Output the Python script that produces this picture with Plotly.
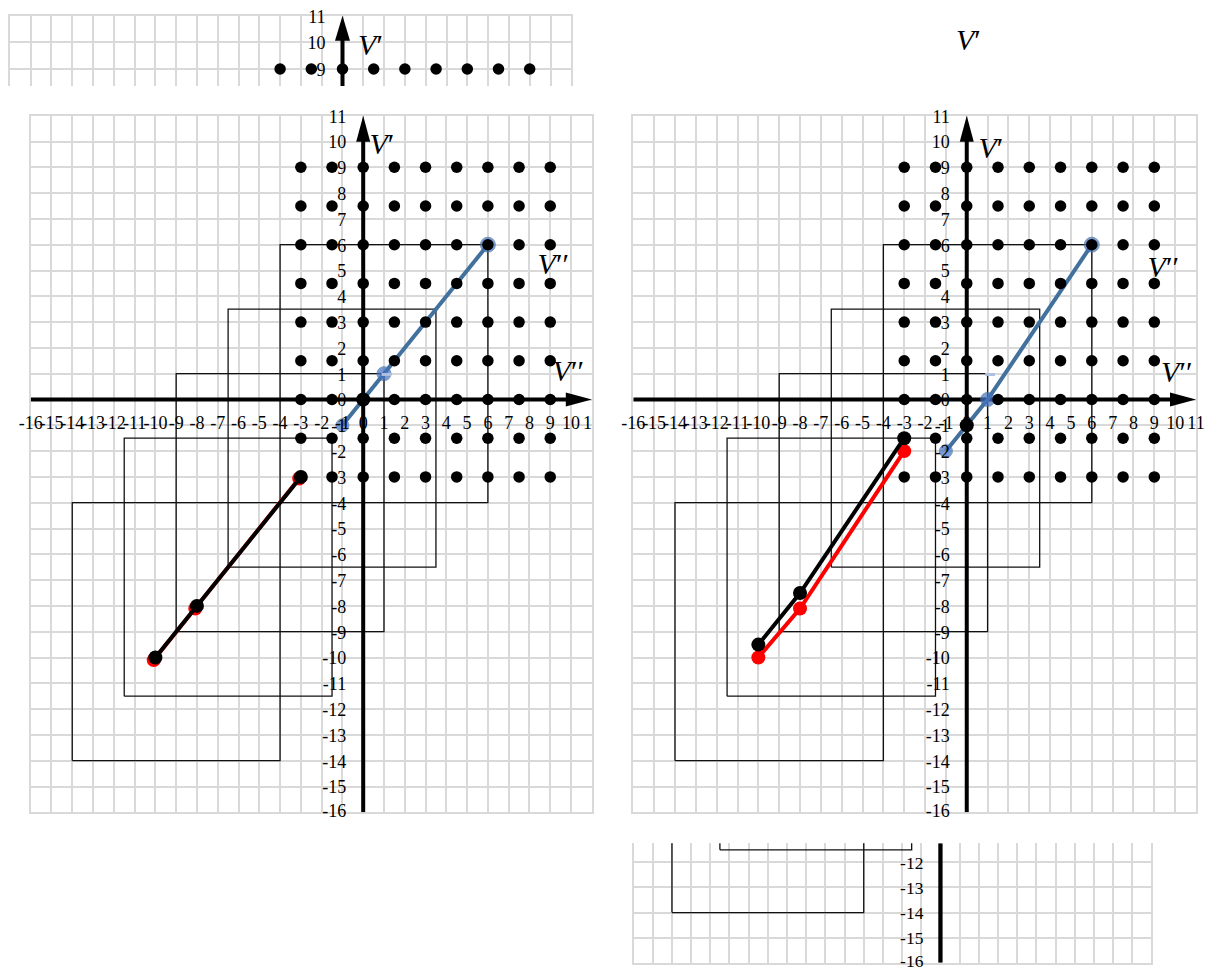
import plotly.graph_objects as go

W, H = 1214, 969

# ---------------- data ----------------
TICKS = list(range(-16, 12))
LATTICE = [-3, -1.5, 0, 1.5, 3, 4.5, 6, 7.5, 9]

# nested squares: lower-left corner and side length
SQUARE_X0 = [-4, -6.5, -9, -11.5, -14]
SQUARE_Y0 = [-4, -6.5, -9, -11.5, -14]
SQUARE_SIDE = [10, 10, 10, 10, 10]

LEFT_BLUE_X = [-1, 1, 6]
LEFT_BLUE_Y = [-1, 1, 6]
LEFT_RED_X = [-10.08, -8.08, -3.08]
LEFT_RED_Y = [-10.1, -8.1, -3.06]
LEFT_BLACK_X = [-10, -8, -3]
LEFT_BLACK_Y = [-10, -8, -3]
LEFT_ORIGIN_X = [0]
LEFT_ORIGIN_Y = [0]

RIGHT_BLUE_X = [-1, 1, 6]
RIGHT_BLUE_Y = [-2, 0, 6]
RIGHT_RED_X = [-10, -8, -3]
RIGHT_RED_Y = [-10, -8.1, -2]
RIGHT_BLACK_X = [-10, -8, -3]
RIGHT_BLACK_Y = [-9.5, -7.5, -1.5]
RIGHT_ORIGIN_X = [0]
RIGHT_ORIGIN_Y = [-1]

DASH_X = [1.12]
DASH_Y = [0.97]

TOP_TICKS = [9, 10, 11]
BOTTOM_TICKS = [-12, -13, -14, -15, -16]

V1 = "<i>V</i>′"
V2 = "<i>V</i>′′"

# ---------------- styling ----------------
SERIF = "Liberation Serif, Times New Roman, serif"
GRID = "#d9d9d9"
BLUE_LINE = "#41719C"
BLUE_MARK = "#4472C4"
RED = "#FF0000"
XR = (-16, 11)
VSIZE = 30

# pixel boxes of the four grids
PANELS = {
    "L": dict(n=1, px=(30.7, 591.8), py=(115.7, 812.3), yr=(-16, 11)),
    "R": dict(n=2, px=(633.3, 1196.0), py=(115.7, 812.3), yr=(-16, 11)),
    "T": dict(n=3, px=(9.7, 571.3), py=(15.7, 86.0), yr=(8.36, 11)),
    "B": dict(n=4, px=(633.6, 1151.4), py=(843.3, 962.7), yr=(-16, -11.24)),
}


def ids(n):
    return ("x" if n == 1 else f"x{n}", "y" if n == 1 else f"y{n}")


def units(p):
    ux = (p["px"][1] - p["px"][0]) / (XR[1] - XR[0])
    uy = (p["py"][1] - p["py"][0]) / (p["yr"][1] - p["yr"][0])
    return ux, uy


fig = go.Figure()


def add(tr, p):
    xa, ya = ids(p["n"])
    tr.update(xaxis=xa, yaxis=ya, showlegend=False, hoverinfo="skip")
    fig.add_trace(tr)


def add_squares(p):
    sx, sy = [], []
    for x0, y0, s in zip(SQUARE_X0, SQUARE_Y0, SQUARE_SIDE):
        sx += [x0, x0 + s, x0 + s, x0, x0, None]
        sy += [y0, y0, y0 + s, y0 + s, y0, None]
    add(go.Scatter(x=sx, y=sy, mode="lines",
                   line=dict(color="#111111", width=1.3)), p)


def add_axis_lines(p, with_x, head_len=26, head_half=7):
    ux, uy = units(p)
    y0, y1 = p["yr"]
    if y1 >= 11:
        base = 11 - head_len / uy
        add(go.Scatter(x=[0, 0], y=[y0, base + 2 / uy], mode="lines",
                       line=dict(color="black", width=4)), p)
        hx = head_half / ux
        add(go.Scatter(x=[0, -hx, hx, 0], y=[11, base, base, 11], mode="lines",
                       fill="toself", fillcolor="black",
                       line=dict(color="black", width=0)), p)
    else:
        add(go.Scatter(x=[0, 0], y=[y0, y1], mode="lines",
                       line=dict(color="black", width=4.3)), p)
    if with_x:
        base = XR[1] - head_len / ux
        add(go.Scatter(x=[XR[0], base + 2 / ux], y=[0, 0], mode="lines",
                       line=dict(color="black", width=4)), p)
        hy = head_half / uy
        add(go.Scatter(x=[XR[1], base, base, XR[1]], y=[0, hy, -hy, 0],
                       mode="lines", fill="toself", fillcolor="black",
                       line=dict(color="black", width=0)), p)


def add_lattice(p):
    lx, ly = [], []
    for yv in LATTICE:
        for xv in LATTICE:
            lx.append(xv)
            ly.append(yv)
    add(go.Scatter(x=lx, y=ly, mode="markers",
                   marker=dict(color="black", size=11.5)), p)


def add_path(p, xs, ys, color, mcolor, size, width=4):
    add(go.Scatter(x=xs, y=ys, mode="lines+markers",
                   line=dict(color=color, width=width),
                   marker=dict(color=mcolor, size=size, line=dict(width=0))), p)


def add_blue(p, xs, ys):
    add(go.Scatter(x=xs, y=ys, mode="lines+markers",
                   line=dict(color=BLUE_LINE, width=4),
                   marker=dict(color=BLUE_MARK, size=[13, 14, 15],
                               line=dict(color=BLUE_LINE, width=1))), p)


def add_origin(p, xs, ys):
    add(go.Scatter(x=xs, y=ys, mode="markers",
                   marker=dict(color="black", size=14)), p)


def add_dash(p):
    add(go.Scatter(x=DASH_X, y=DASH_Y, mode="markers",
                   marker=dict(symbol="line-ew", size=7,
                               line=dict(color="#aebfe0", width=3))), p)


def text(p, xs, ys, txt, pos, size=18, clip=False):
    add(go.Scatter(x=xs, y=ys, text=txt, mode="text", textposition=pos,
                   cliponaxis=clip,
                   textfont=dict(family=SERIF, size=size, color="black")), p)


def y_labels(p, values, size=18, gap=17, drop=2.5):
    ux, uy = units(p)
    lo = p["yr"][0]
    # keep the anchor inside the range so edge labels are not dropped
    ys = [max(v - drop / uy, lo) for v in values]
    text(p, [-gap / ux] * len(values), ys,
         [str(v) for v in values], "middle left", size)


def x_labels(p, values, clip_last=False, drop=24.8):
    ux, uy = units(p)
    yl = -drop / uy
    body = values[:-1] if clip_last else values
    text(p, body, [yl] * len(body), [str(v) for v in body], "middle center")
    if clip_last:
        # the left sheet is trimmed at its right border
        text(p, values[-1:], [yl], [str(values[-1])], "middle center", clip=True)


# ---------- left grid ----------
pL = PANELS["L"]
add_squares(pL)
add_axis_lines(pL, True)
add_blue(pL, LEFT_BLUE_X, LEFT_BLUE_Y)
add_lattice(pL)
add_path(pL, LEFT_RED_X, LEFT_RED_Y, RED, RED, 14)
add_path(pL, LEFT_BLACK_X, LEFT_BLACK_Y, "black", "black", 14)
add_origin(pL, LEFT_ORIGIN_X, LEFT_ORIGIN_Y)
add_dash(pL)
y_labels(pL, TICKS)
x_labels(pL, TICKS, clip_last=True)
text(pL, [0.9], [9.8], [V1], "middle center", VSIZE)
text(pL, [9.15], [5.15], [V2], "middle center", VSIZE)
text(pL, [9.87], [1.0], [V2], "middle center", VSIZE)

# ---------- right grid ----------
pR = PANELS["R"]
add_squares(pR)
add_axis_lines(pR, True)
add_blue(pR, RIGHT_BLUE_X, RIGHT_BLUE_Y)
add_lattice(pR)
add_path(pR, RIGHT_RED_X, RIGHT_RED_Y, RED, RED, 14)
add_path(pR, RIGHT_BLACK_X, RIGHT_BLACK_Y, "black", "black", 14)
add_origin(pR, RIGHT_ORIGIN_X, RIGHT_ORIGIN_Y)
add_dash(pR)
y_labels(pR, TICKS)
x_labels(pR, TICKS)
text(pR, [1.16], [9.64], [V1], "middle center", VSIZE)
text(pR, [9.43], [5.02], [V2], "middle center", VSIZE)
text(pR, [10.08], [0.95], [V2], "middle center", VSIZE)

# ---------- top strip ----------
pT = PANELS["T"]
add_axis_lines(pT, False, head_len=25, head_half=7.5)
add_lattice(pT)
y_labels(pT, TOP_TICKS)
text(pT, [1.35], [9.8], [V1], "middle center", VSIZE)

# ---------- bottom strip ----------
pB = PANELS["B"]
add_squares(pB)
add_axis_lines(pB, False)
y_labels(pB, BOTTOM_TICKS, size=17.5)

# ---------- axes ----------
frames = {
    "L": dict(xmirror=True, xside="bottom"),
    "R": dict(xmirror=True, xside="bottom"),
    "T": dict(xmirror=False, xside="top"),
    "B": dict(xmirror=False, xside="bottom"),
}
axes = {}
for key, p in PANELS.items():
    n = p["n"]
    xa, ya = ids(n)
    common = dict(dtick=1, tick0=0, showgrid=True, gridcolor=GRID, gridwidth=1.5,
                  zeroline=False, showticklabels=False, ticks="",
                  linecolor=GRID, linewidth=1.5, layer="below traces",
                  fixedrange=True)
    f = frames[key]
    axes["xaxis" if n == 1 else f"xaxis{n}"] = dict(
        common, domain=[p["px"][0] / W, p["px"][1] / W], range=list(XR),
        anchor=ya, showline=True, mirror=f["xmirror"], side=f["xside"])
    axes["yaxis" if n == 1 else f"yaxis{n}"] = dict(
        common, domain=[1 - p["py"][1] / H, 1 - p["py"][0] / H],
        range=list(p["yr"]), anchor=xa, showline=True, mirror=True)

fig.update_layout(
    width=W, height=H,
    margin=dict(l=0, r=0, t=0, b=0, pad=0),
    paper_bgcolor="white", plot_bgcolor="white",
    showlegend=False,
    annotations=[dict(text=V1, x=968 / W, y=1 - 40 / H, xref="paper", yref="paper",
                      xanchor="center", yanchor="middle", showarrow=False,
                      font=dict(family=SERIF, size=VSIZE, color="black"))],
    **axes,
)

fig.write_html("out.html", config={"displayModeBar": False})
